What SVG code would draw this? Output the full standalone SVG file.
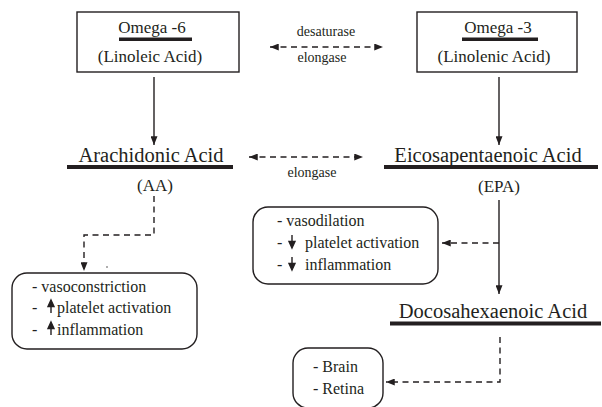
<svg xmlns="http://www.w3.org/2000/svg" width="602" height="407" viewBox="0 0 602 407">
<defs>
<style>
.t{font-family:'Liberation Serif','DejaVu Serif',serif;fill:#231f20}
.big{font-size:20.5px}
.mid{font-size:17px}
.lbl{font-size:16px}
.sm{font-size:14px}
.box{fill:#fff;stroke:#231f20;stroke-width:1.4}
.rbox{fill:#fff;stroke:#231f20;stroke-width:1.4}
.solid{fill:none;stroke:#231f20;stroke-width:1.4}
.dash{fill:none;stroke:#231f20;stroke-width:1.4;stroke-dasharray:6 4.5}
.bar{fill:#231f20}
.ia{fill:#231f20;stroke:#231f20;stroke-width:1.4}
</style>
<marker id="ah" viewBox="0 0 10 8" refX="10" refY="4" markerWidth="10" markerHeight="7" markerUnits="userSpaceOnUse" orient="auto-start-reverse">
<path d="M0,0 L10,4 L0,8 z" fill="#231f20"/>
</marker>
</defs>
<g font-family="Liberation Serif, DejaVu Serif, serif">
<g id="omega6">
<rect class="box" x="77" y="12" width="162" height="60"/>
<text class="t mid" x="152" y="33" text-anchor="middle">Omega -6</text>
<rect class="bar" x="119" y="37.5" width="73" height="3.5"/>
<text class="t mid" x="150" y="62" text-anchor="middle">(Linoleic Acid)</text>
</g>

<g id="omega3">
<rect class="box" x="417" y="12" width="160" height="60"/>
<text class="t mid" x="498" y="33" text-anchor="middle">Omega -3</text>
<rect class="bar" x="462" y="37.5" width="76" height="3.5"/>
<text class="t mid" x="494" y="62" text-anchor="middle">(Linolenic Acid)</text>
</g>

<g id="aa">
<text class="t big" x="151" y="162" text-anchor="middle">Arachidonic Acid</text>
<rect class="bar" x="67" y="165" width="166" height="4"/>
<text class="t mid" x="155" y="191" text-anchor="middle">(AA)</text>
</g>

<g id="epa">
<text class="t big" x="488" y="162" text-anchor="middle">Eicosapentaenoic Acid</text>
<rect class="bar" x="384" y="165" width="214" height="4"/>
<text class="t mid" x="499" y="192" text-anchor="middle">(EPA)</text>
</g>

<g id="dha">
<text class="t big" x="493" y="318" text-anchor="middle">Docosahexaenoic Acid</text>
<rect class="bar" x="390" y="321.5" width="211" height="4"/>
</g>

<g id="aa-effects">
<rect class="rbox" x="12" y="273" width="185" height="76" rx="15"/>
<text class="t lbl" x="32" y="292">- vasoconstriction</text>
<text class="t lbl" x="32" y="313">-</text>
<path class="ia" d="M51,313 V305"/><path class="ia" d="M51,300 L54,306.5 L48,306.5 z"/>
<text class="t lbl" x="57" y="313">platelet activation</text>
<text class="t lbl" x="32" y="335">-</text>
<path class="ia" d="M51,335 V327"/><path class="ia" d="M51,322 L54,328.5 L48,328.5 z"/>
<text class="t lbl" x="57" y="335">inflammation</text>
</g>

<g id="epa-effects">
<rect class="rbox" x="253" y="207" width="185" height="77" rx="15"/>
<text class="t lbl" x="277" y="226">- vasodilation</text>
<text class="t lbl" x="277" y="248">-</text>
<path class="ia" d="M292,235 V242"/><path class="ia" d="M292,248 L295,241.5 L289,241.5 z"/>
<text class="t lbl" x="305" y="248">platelet activation</text>
<text class="t lbl" x="277" y="270">-</text>
<path class="ia" d="M292,257 V264"/><path class="ia" d="M292,270 L295,263.5 L289,263.5 z"/>
<text class="t lbl" x="305" y="270">inflammation</text>
</g>

<g id="dha-effects">
<rect class="rbox" x="293" y="348" width="90" height="60" rx="15"/>
<text class="t lbl" x="313" y="372">- Brain</text>
<text class="t lbl" x="313" y="394">- Retina</text>
</g>

<g id="connectors">
<path class="dash" d="M270,47 H383" marker-start="url(#ah)" marker-end="url(#ah)"/>
<text class="t sm" x="326" y="36" text-anchor="middle">desaturase</text>
<text class="t sm" x="322" y="62" text-anchor="middle">elongase</text>
<path class="solid" d="M154,77 V145" marker-end="url(#ah)"/>
<path class="solid" d="M499,77 V145" marker-end="url(#ah)"/>
<path class="dash" d="M249,157 H363" marker-start="url(#ah)" marker-end="url(#ah)"/>
<text class="t sm" x="312" y="177" text-anchor="middle">elongase</text>
<path class="dash" d="M154,196 V235 H84 V271" marker-end="url(#ah)"/>
<circle cx="107" cy="267" r="0.7" fill="#231f20"/>
<path class="solid" d="M499,200 V294" marker-end="url(#ah)"/>
<path class="dash" d="M499,243 H442" marker-end="url(#ah)"/>
<path class="dash" d="M500,337 V382 H386" marker-end="url(#ah)"/>
</g>
</g>
</svg>
